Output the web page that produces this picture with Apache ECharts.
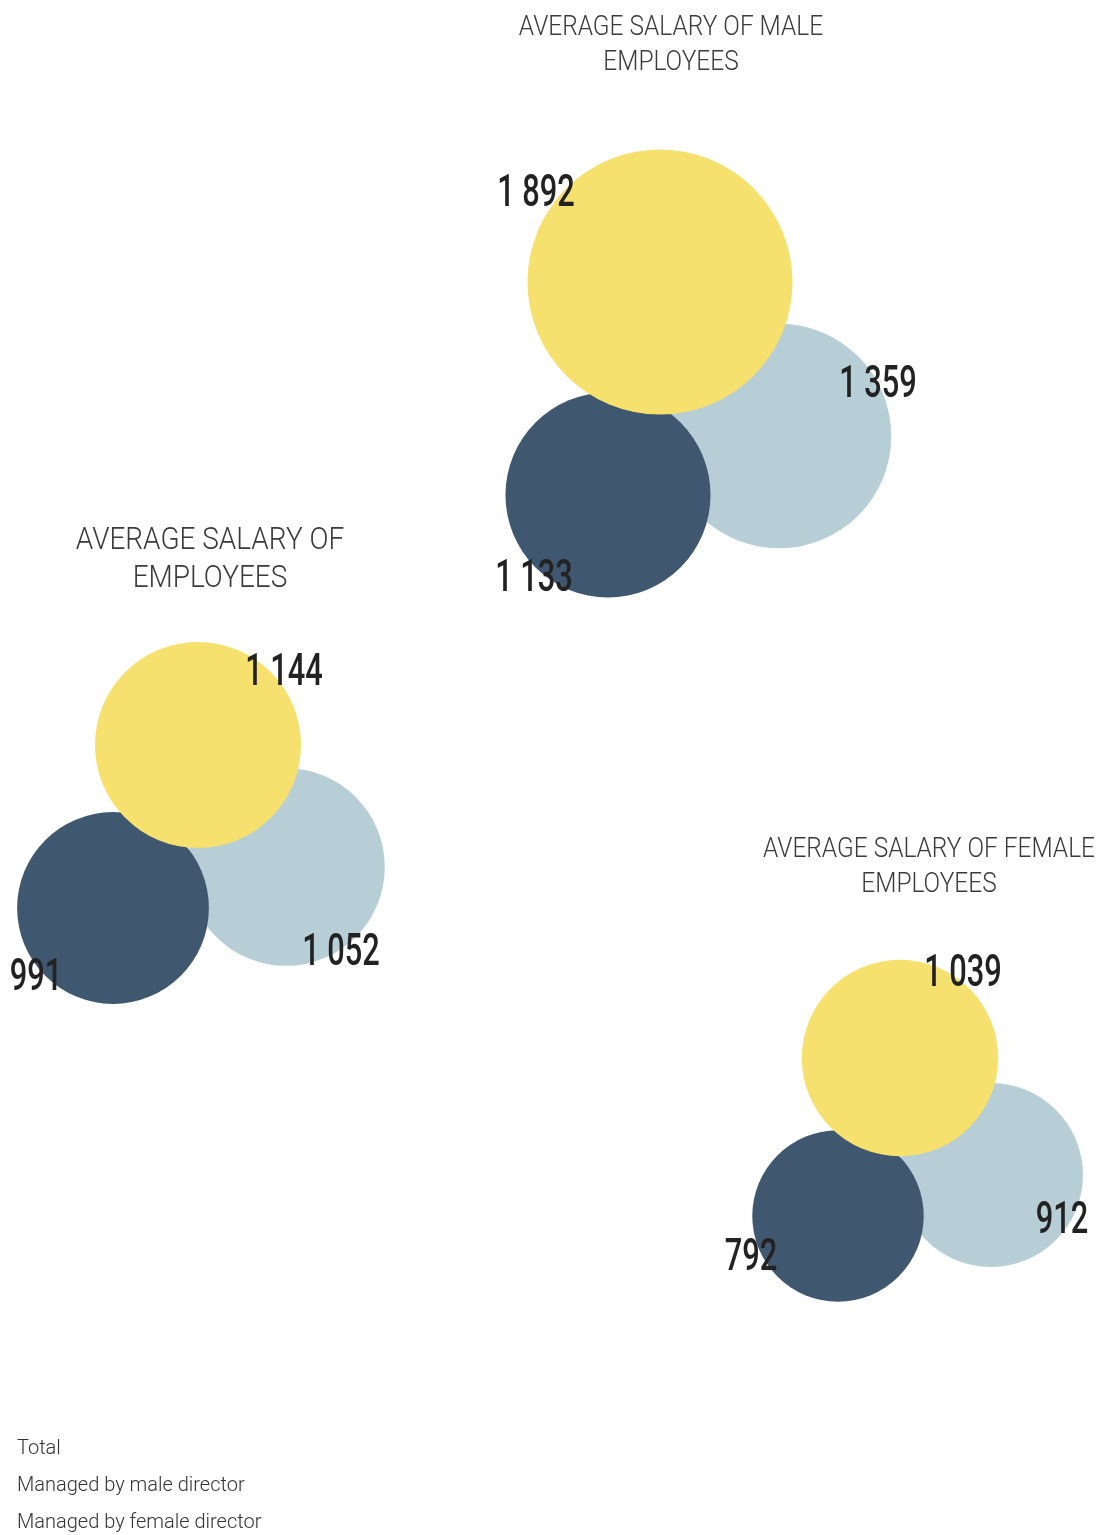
<!DOCTYPE html>
<html>
<head>
<meta charset="utf-8">
<title>Average salary by director gender</title>
<script src="https://cdn.jsdelivr.net/npm/echarts@6/dist/echarts.min.js"></script>
<style>
  html, body { margin: 0; padding: 0; background: #fff; }
  #chart { width: 1098px; height: 1535px; }
</style>
</head>
<body>
<div id="chart"></div>
<script>
// ---- data ----
const groupTitles = [
  'AVERAGE SALARY OF\nEMPLOYEES',
  'AVERAGE SALARY OF MALE\nEMPLOYEES',
  'AVERAGE SALARY OF FEMALE\nEMPLOYEES'
];
const seriesNames = ['Total', 'Managed by male director', 'Managed by female director'];
const totalSalary = [1144, 1892, 1039];
const maleDirectorSalary = [1052, 1359, 912];
const femaleDirectorSalary = [991, 1133, 792];

// ---- layout (pixel space of the hidden grid) ----
const titleAnchors = [[210, 522], [671, 10], [929, 832]];
const titleFontSizes = [32, 28, 28];
const titleLineHeights = [38, 35, 35];
const totalCenters = [[198, 745], [660, 282], [900, 1058]];
const maleCenters = [[286, 867], [779, 436], [991, 1175]];
const femaleCenters = [[113, 908], [608, 495], [838, 1216]];
const totalLabelOffsets = [[86, -71], [-124, -87], [63, -83]];
const maleLabelOffsets = [[55, 87], [99, -50], [71, 47]];
const femaleLabelOffsets = [[-77, 71], [-74, 85], [-87, 43]];

const COLORS = { total: '#F6E06E', male: '#B7CED6', female: '#405770' };
const RADIUS_PER_SQRT = 3.046; // bubble area proportional to value
const CONDENSE = 0.7;          // horizontal squeeze for the value labels
const TITLE_CONDENSE = 0.874;  // horizontal squeeze for the group headings

const fmt = v => String(v).replace(/\B(?=(\d{3})+(?!\d))/g, ' ');

function bubbleSeries(name, values, centers, offsets, color, z) {
  return {
    name,
    type: 'custom',
    coordinateSystem: 'cartesian2d',
    z,
    silent: true,
    itemStyle: { color },
    encode: { x: 0, y: 1 },
    data: values.map((v, i) => [centers[i][0], centers[i][1], v]),
    renderItem: (params, api) => {
      const value = api.value(2);
      const c = api.coord([api.value(0), api.value(1)]);
      const r = RADIUS_PER_SQRT * Math.sqrt(value);
      const off = offsets[params.dataIndex];
      return {
        type: 'group',
        children: [
          {
            type: 'circle',
            shape: { cx: c[0], cy: c[1], r },
            style: { fill: color }
          },
          {
            type: 'text',
            x: c[0] + off[0],
            y: c[1] + off[1],
            scaleX: CONDENSE,
            z2: 10,
            style: {
              text: fmt(value),
              font: '500 44px Roboto, sans-serif',
              fill: '#222',
              align: 'center',
              verticalAlign: 'middle'
            }
          }
        ]
      };
    }
  };
}

const chart = echarts.init(document.getElementById('chart'));
chart.setOption({
  backgroundColor: '#fff',
  animation: false,
  graphic: groupTitles.map((t, i) => ({
    type: 'text',
    x: titleAnchors[i][0],
    y: titleAnchors[i][1],
    scaleX: TITLE_CONDENSE,
    silent: true,
    style: {
      text: t,
      font: '300 ' + titleFontSizes[i] + 'px Roboto, sans-serif',
      lineHeight: titleLineHeights[i],
      fill: '#3a3a3a',
      align: 'center',
      verticalAlign: 'top'
    }
  })),
  legend: {
    data: seriesNames,
    orient: 'vertical',
    left: 12,
    top: 1438,
    padding: 0,
    itemWidth: 0,
    itemHeight: 21,
    itemGap: 16,
    icon: 'rect',
    itemStyle: { opacity: 0 },
    textStyle: {
      fontFamily: 'Roboto',
      fontWeight: 300,
      fontSize: 20,
      lineHeight: 21,
      color: '#333'
    },
    selectedMode: false
  },
  grid: { left: 0, right: 0, top: 0, bottom: 0 },
  xAxis: { type: 'value', min: 0, max: 1098, show: false },
  yAxis: { type: 'value', min: 0, max: 1535, inverse: true, show: false },
  series: [
    bubbleSeries(seriesNames[0], totalSalary, totalCenters, totalLabelOffsets, COLORS.total, 4),
    bubbleSeries(seriesNames[1], maleDirectorSalary, maleCenters, maleLabelOffsets, COLORS.male, 2),
    bubbleSeries(seriesNames[2], femaleDirectorSalary, femaleCenters, femaleLabelOffsets, COLORS.female, 3)
  ]
});
</script>
</body>
</html>
